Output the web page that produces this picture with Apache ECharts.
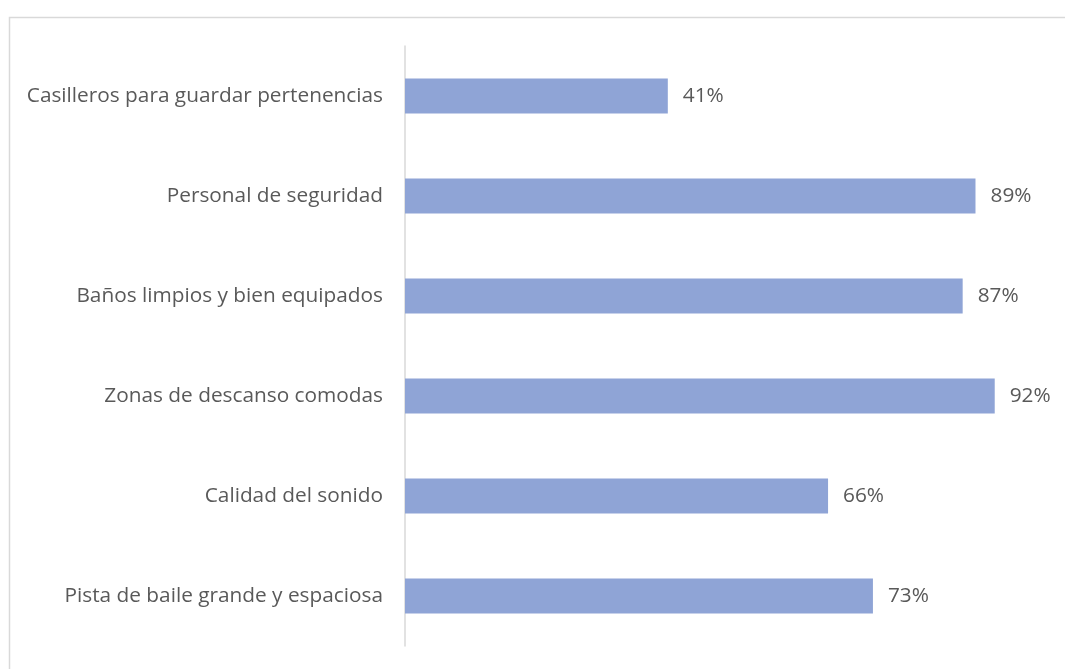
<!DOCTYPE html>
<html>
<head>
<meta charset="utf-8">
<script src="https://cdn.jsdelivr.net/npm/echarts@6/dist/echarts.min.js"></script>
<style>
  html, body { margin: 0; padding: 0; background: #ffffff; }
  #chart { width: 1065px; height: 669px; }
</style>
</head>
<body>
<div id="chart"></div>
<script>
// Categories, listed bottom-to-top as the category axis draws them
const categories = [
  'Pista de baile grande y espaciosa',
  'Calidad del sonido',
  'Zonas de descanso comodas',
  'Baños limpios y bien equipados',
  'Personal de seguridad',
  'Casilleros para guardar pertenencias'
];
// Share of respondents (percent)
const values = [73, 66, 92, 87, 89, 41];

const chart = echarts.init(document.getElementById('chart'), null, { renderer: 'canvas' });

const textColor = '#595959';
const fontFamily = '"Open Sans", "Noto Sans", sans-serif';

chart.setOption({
  backgroundColor: '#ffffff',
  animation: false,
  graphic: [{
    type: 'rect',
    shape: { x: 9.5, y: 17.5, width: 1100, height: 700 },
    style: { fill: 'none', stroke: '#d9d9d9', lineWidth: 1.5 },
    silent: true
  }],
  grid: { left: 405, right: 19, top: 46, bottom: 23, containLabel: false },
  xAxis: {
    type: 'value',
    min: 0,
    max: 100,
    show: false
  },
  yAxis: {
    type: 'category',
    data: categories,
    axisLine: { show: true, lineStyle: { color: '#d9d9d9', width: 1.5 } },
    axisTick: { show: false },
    axisLabel: {
      color: textColor,
      fontFamily: fontFamily,
      fontSize: 20.8,
      margin: 22
    },
    splitLine: { show: false }
  },
  series: [{
    type: 'bar',
    data: values,
    barWidth: '35%',
    itemStyle: { color: '#8FA4D6' },
    label: {
      show: true,
      position: 'right',
      distance: 15,
      color: textColor,
      fontFamily: fontFamily,
      fontSize: 20.8,
      formatter: p => p.value + '%'
    }
  }]
});
</script>
</body>
</html>
